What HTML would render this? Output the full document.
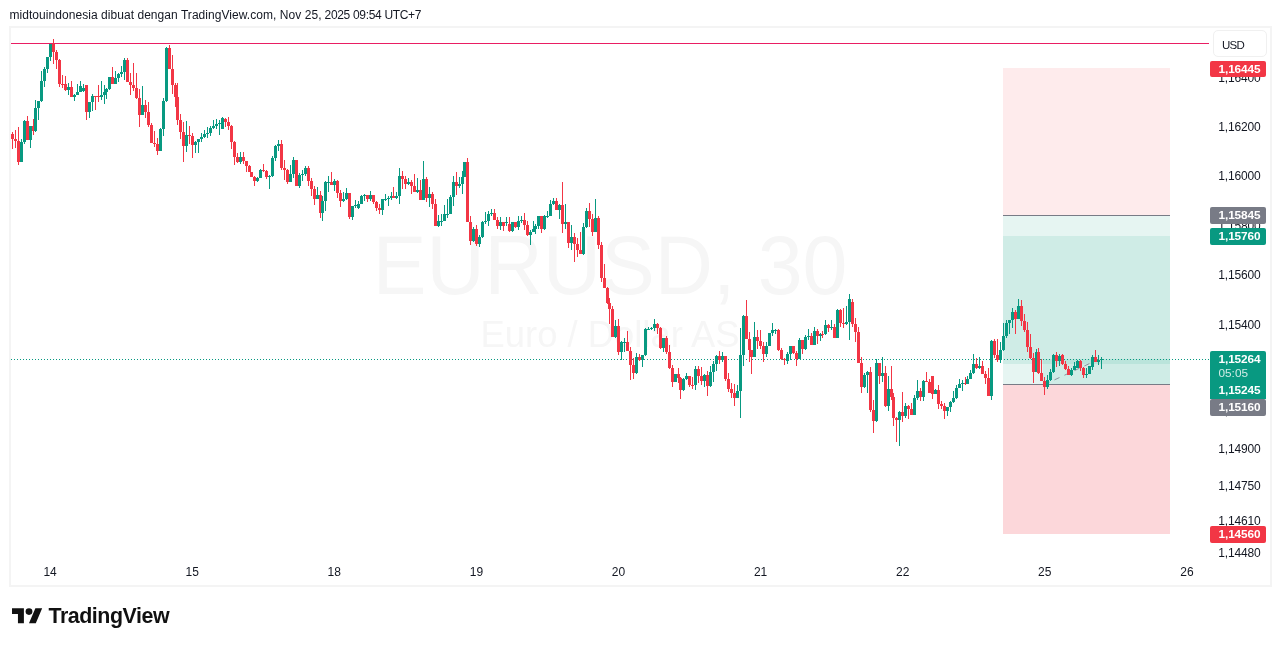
<!DOCTYPE html>
<html lang="id"><head><meta charset="utf-8"><title>EURUSD 30 - TradingView</title>
<style>
html,body{margin:0;padding:0;background:#fff;}
body{width:1281px;height:646px;overflow:hidden;position:relative;font-family:"Liberation Sans","DejaVu Sans",sans-serif;color:#131722;}
#hdr{position:absolute;left:9.5px;top:8px;font-size:12px;line-height:14px;white-space:nowrap;letter-spacing:-0.04px;color:#131722;}
#frame{position:absolute;left:9px;top:26px;width:1259px;height:557px;border:2px solid #f4f4f4;}
#chart{position:absolute;left:0;top:0;width:1281px;height:646px;}
.pl{position:absolute;left:1210px;width:56px;height:17px;line-height:17px;font-size:12px;text-align:left;color:#131722;white-space:nowrap;}
.pl span{position:absolute;left:8.3px;top:-0.5px;letter-spacing:-0.15px;}
.tag{position:absolute;left:1210px;width:56px;height:17px;line-height:17px;font-size:11.8px;font-weight:bold;color:#fff;border-radius:2px;white-space:nowrap;}
.tag span{position:absolute;left:8.5px;top:-0.5px;letter-spacing:-0.1px}
.tl{position:absolute;top:565px;width:40px;margin-left:-20px;text-align:center;font-size:12px;line-height:14px;color:#131722;}
#usd{position:absolute;left:1213px;top:30px;width:52px;height:25px;border:1px solid #f0f0f0;border-radius:5px;font-size:12px;line-height:26px;}
#usd span{position:absolute;left:8px;top:0.5px;font-size:11.5px;letter-spacing:-0.8px}
#wm1{position:absolute;left:-0.5px;width:1220px;top:217.6px;text-align:center;transform:scaleX(0.9686);transform-origin:50% 50%;font-size:83.2px;line-height:96px;color:#f6f6f6;white-space:nowrap;}
#wm2{position:absolute;left:0;width:1220px;top:315px;text-align:center;font-size:36.4px;line-height:40px;color:#f6f6f6;white-space:nowrap;}
#logo{position:absolute;left:12px;top:605px;}
#logotxt{position:absolute;left:48.5px;top:603.5px;font-size:21.4px;line-height:24px;font-weight:bold;color:#111;letter-spacing:-0.45px;white-space:nowrap;}
</style></head>
<body>
<div id="hdr"><span style="letter-spacing:0.05px">midtouindonesia dibuat dengan TradingView.com, Nov 25,</span><span style="letter-spacing:-0.32px"> 2025 09:54 UTC+7</span></div>
<div id="frame"></div>
<div id="wm1">EURUSD, 30</div>
<div id="wm2">Euro / Dollar AS</div>
<svg id="chart" width="1281" height="646" viewBox="0 0 1281 646" shape-rendering="crispEdges">
<rect x="1003" y="68" width="167" height="147.5" fill="#f23645" fill-opacity="0.1"/>
<rect x="1003" y="215.5" width="167" height="148.2" fill="#089981" fill-opacity="0.1"/>
<rect x="1003" y="236" width="167" height="148.7" fill="#089981" fill-opacity="0.1"/>
<rect x="1043" y="359.4" width="127" height="25.3" fill="#089981" fill-opacity="0.1"/>
<rect x="1003" y="384.7" width="167" height="149.7" fill="#f23645" fill-opacity="0.2"/>
<rect x="1003" y="215" width="167" height="1" fill="#787b86"/>
<rect x="1003" y="384" width="167" height="1" fill="#787b86"/>
<rect x="11" y="43" width="1198" height="1" fill="#e91e63"/>
<line x1="11" y1="359.5" x2="1209" y2="359.5" stroke="#089981" stroke-width="1" stroke-dasharray="1 2"/>
<line x1="1044.5" y1="384.5" x2="1098.5" y2="359.4" stroke="#80838f" stroke-width="1" stroke-dasharray="5.5 5.5" stroke-opacity="0.85" shape-rendering="auto"/>
<rect x="12" y="132" width="1" height="17" fill="#f23645"/>
<rect x="11" y="134" width="3" height="5" fill="#f23645"/>
<rect x="15" y="130" width="1" height="18" fill="#f23645"/>
<rect x="14" y="139" width="3" height="2" fill="#f23645"/>
<rect x="18" y="127" width="1" height="38" fill="#f23645"/>
<rect x="17" y="141" width="3" height="21" fill="#f23645"/>
<rect x="21" y="139" width="1" height="23" fill="#089981"/>
<rect x="20" y="142" width="3" height="20" fill="#089981"/>
<rect x="24" y="120" width="1" height="24" fill="#089981"/>
<rect x="23" y="121" width="3" height="21" fill="#089981"/>
<rect x="27" y="116" width="1" height="24" fill="#f23645"/>
<rect x="26" y="121" width="3" height="19" fill="#f23645"/>
<rect x="30" y="126" width="1" height="22" fill="#089981"/>
<rect x="29" y="126" width="3" height="14" fill="#089981"/>
<rect x="33" y="119" width="1" height="16" fill="#f23645"/>
<rect x="32" y="126" width="3" height="5" fill="#f23645"/>
<rect x="35" y="100" width="1" height="32" fill="#089981"/>
<rect x="34" y="108" width="3" height="23" fill="#089981"/>
<rect x="38" y="101" width="1" height="19" fill="#089981"/>
<rect x="37" y="101" width="3" height="7" fill="#089981"/>
<rect x="41" y="71" width="1" height="31" fill="#089981"/>
<rect x="40" y="81" width="3" height="20" fill="#089981"/>
<rect x="44" y="67" width="1" height="20" fill="#089981"/>
<rect x="43" y="69" width="3" height="12" fill="#089981"/>
<rect x="47" y="57" width="1" height="16" fill="#089981"/>
<rect x="46" y="57" width="3" height="12" fill="#089981"/>
<rect x="50" y="44" width="1" height="17" fill="#089981"/>
<rect x="49" y="44" width="3" height="13" fill="#089981"/>
<rect x="53" y="39" width="1" height="25" fill="#f23645"/>
<rect x="52" y="44" width="3" height="8" fill="#f23645"/>
<rect x="56" y="50" width="1" height="19" fill="#f23645"/>
<rect x="55" y="52" width="3" height="8" fill="#f23645"/>
<rect x="59" y="59" width="1" height="28" fill="#f23645"/>
<rect x="58" y="60" width="3" height="24" fill="#f23645"/>
<rect x="62" y="75" width="1" height="13" fill="#f23645"/>
<rect x="61" y="84" width="3" height="1" fill="#f23645"/>
<rect x="65" y="76" width="1" height="15" fill="#f23645"/>
<rect x="64" y="84" width="3" height="6" fill="#f23645"/>
<rect x="68" y="83" width="1" height="12" fill="#089981"/>
<rect x="67" y="87" width="3" height="3" fill="#089981"/>
<rect x="71" y="81" width="1" height="16" fill="#f23645"/>
<rect x="70" y="87" width="3" height="10" fill="#f23645"/>
<rect x="74" y="94" width="1" height="7" fill="#089981"/>
<rect x="73" y="95" width="3" height="2" fill="#089981"/>
<rect x="77" y="84" width="1" height="11" fill="#089981"/>
<rect x="76" y="92" width="3" height="3" fill="#089981"/>
<rect x="80" y="81" width="1" height="11" fill="#089981"/>
<rect x="79" y="86" width="3" height="6" fill="#089981"/>
<rect x="83" y="84" width="1" height="8" fill="#089981"/>
<rect x="82" y="88" width="3" height="3" fill="#089981"/>
<rect x="86" y="85" width="1" height="35" fill="#f23645"/>
<rect x="85" y="85" width="3" height="27" fill="#f23645"/>
<rect x="89" y="102" width="1" height="16" fill="#089981"/>
<rect x="88" y="102" width="3" height="10" fill="#089981"/>
<rect x="92" y="94" width="1" height="17" fill="#089981"/>
<rect x="91" y="96" width="3" height="6" fill="#089981"/>
<rect x="95" y="96" width="1" height="14" fill="#f23645"/>
<rect x="94" y="96" width="3" height="1" fill="#f23645"/>
<rect x="98" y="85" width="1" height="17" fill="#f23645"/>
<rect x="97" y="96" width="3" height="1" fill="#f23645"/>
<rect x="101" y="81" width="1" height="19" fill="#089981"/>
<rect x="100" y="95" width="3" height="2" fill="#089981"/>
<rect x="104" y="85" width="1" height="19" fill="#089981"/>
<rect x="103" y="92" width="3" height="3" fill="#089981"/>
<rect x="106" y="88" width="1" height="11" fill="#089981"/>
<rect x="105" y="89" width="3" height="3" fill="#089981"/>
<rect x="109" y="77" width="1" height="13" fill="#089981"/>
<rect x="108" y="77" width="3" height="12" fill="#089981"/>
<rect x="112" y="67" width="1" height="17" fill="#f23645"/>
<rect x="111" y="77" width="3" height="7" fill="#f23645"/>
<rect x="115" y="71" width="1" height="13" fill="#089981"/>
<rect x="114" y="78" width="3" height="6" fill="#089981"/>
<rect x="118" y="73" width="1" height="9" fill="#089981"/>
<rect x="117" y="74" width="3" height="4" fill="#089981"/>
<rect x="121" y="66" width="1" height="11" fill="#089981"/>
<rect x="120" y="72" width="3" height="2" fill="#089981"/>
<rect x="124" y="58" width="1" height="22" fill="#089981"/>
<rect x="123" y="60" width="3" height="12" fill="#089981"/>
<rect x="127" y="58" width="1" height="24" fill="#f23645"/>
<rect x="126" y="60" width="3" height="22" fill="#f23645"/>
<rect x="130" y="73" width="1" height="22" fill="#f23645"/>
<rect x="129" y="82" width="3" height="3" fill="#f23645"/>
<rect x="133" y="63" width="1" height="28" fill="#f23645"/>
<rect x="132" y="85" width="3" height="3" fill="#f23645"/>
<rect x="136" y="73" width="1" height="26" fill="#f23645"/>
<rect x="135" y="88" width="3" height="10" fill="#f23645"/>
<rect x="139" y="89" width="1" height="38" fill="#f23645"/>
<rect x="138" y="98" width="3" height="17" fill="#f23645"/>
<rect x="142" y="86" width="1" height="29" fill="#089981"/>
<rect x="141" y="105" width="3" height="10" fill="#089981"/>
<rect x="145" y="100" width="1" height="18" fill="#f23645"/>
<rect x="144" y="105" width="3" height="7" fill="#f23645"/>
<rect x="148" y="102" width="1" height="25" fill="#f23645"/>
<rect x="147" y="112" width="3" height="13" fill="#f23645"/>
<rect x="151" y="123" width="1" height="20" fill="#f23645"/>
<rect x="150" y="125" width="3" height="18" fill="#f23645"/>
<rect x="154" y="131" width="1" height="16" fill="#f23645"/>
<rect x="153" y="143" width="3" height="1" fill="#f23645"/>
<rect x="157" y="138" width="1" height="17" fill="#f23645"/>
<rect x="156" y="144" width="3" height="7" fill="#f23645"/>
<rect x="160" y="128" width="1" height="23" fill="#089981"/>
<rect x="159" y="129" width="3" height="22" fill="#089981"/>
<rect x="163" y="98" width="1" height="38" fill="#089981"/>
<rect x="162" y="101" width="3" height="28" fill="#089981"/>
<rect x="166" y="47" width="1" height="55" fill="#089981"/>
<rect x="165" y="48" width="3" height="53" fill="#089981"/>
<rect x="169" y="45" width="1" height="24" fill="#f23645"/>
<rect x="168" y="48" width="3" height="21" fill="#f23645"/>
<rect x="172" y="55" width="1" height="39" fill="#f23645"/>
<rect x="171" y="69" width="3" height="16" fill="#f23645"/>
<rect x="175" y="83" width="1" height="24" fill="#f23645"/>
<rect x="174" y="85" width="3" height="12" fill="#f23645"/>
<rect x="177" y="83" width="1" height="42" fill="#f23645"/>
<rect x="176" y="97" width="3" height="23" fill="#f23645"/>
<rect x="180" y="114" width="1" height="25" fill="#f23645"/>
<rect x="179" y="120" width="3" height="12" fill="#f23645"/>
<rect x="183" y="122" width="1" height="40" fill="#f23645"/>
<rect x="182" y="132" width="3" height="14" fill="#f23645"/>
<rect x="186" y="121" width="1" height="31" fill="#089981"/>
<rect x="185" y="135" width="3" height="11" fill="#089981"/>
<rect x="189" y="126" width="1" height="18" fill="#f23645"/>
<rect x="188" y="135" width="3" height="1" fill="#f23645"/>
<rect x="192" y="133" width="1" height="25" fill="#f23645"/>
<rect x="191" y="136" width="3" height="9" fill="#f23645"/>
<rect x="195" y="141" width="1" height="12" fill="#089981"/>
<rect x="194" y="142" width="3" height="3" fill="#089981"/>
<rect x="198" y="139" width="1" height="14" fill="#089981"/>
<rect x="197" y="139" width="3" height="3" fill="#089981"/>
<rect x="201" y="133" width="1" height="9" fill="#089981"/>
<rect x="200" y="137" width="3" height="2" fill="#089981"/>
<rect x="204" y="130" width="1" height="8" fill="#089981"/>
<rect x="203" y="134" width="3" height="3" fill="#089981"/>
<rect x="207" y="127" width="1" height="11" fill="#089981"/>
<rect x="206" y="133" width="3" height="1" fill="#089981"/>
<rect x="210" y="126" width="1" height="10" fill="#089981"/>
<rect x="209" y="128" width="3" height="5" fill="#089981"/>
<rect x="213" y="120" width="1" height="9" fill="#089981"/>
<rect x="212" y="126" width="3" height="2" fill="#089981"/>
<rect x="216" y="119" width="1" height="10" fill="#089981"/>
<rect x="215" y="124" width="3" height="2" fill="#089981"/>
<rect x="219" y="120" width="1" height="15" fill="#089981"/>
<rect x="218" y="123" width="3" height="1" fill="#089981"/>
<rect x="222" y="117" width="1" height="12" fill="#089981"/>
<rect x="221" y="118" width="3" height="11" fill="#089981"/>
<rect x="225" y="118" width="1" height="9" fill="#f23645"/>
<rect x="224" y="119" width="3" height="3" fill="#f23645"/>
<rect x="228" y="117" width="1" height="13" fill="#f23645"/>
<rect x="227" y="122" width="3" height="4" fill="#f23645"/>
<rect x="231" y="125" width="1" height="24" fill="#f23645"/>
<rect x="230" y="126" width="3" height="16" fill="#f23645"/>
<rect x="234" y="141" width="1" height="24" fill="#f23645"/>
<rect x="233" y="142" width="3" height="15" fill="#f23645"/>
<rect x="237" y="153" width="1" height="10" fill="#f23645"/>
<rect x="236" y="157" width="3" height="5" fill="#f23645"/>
<rect x="240" y="152" width="1" height="12" fill="#089981"/>
<rect x="239" y="157" width="3" height="5" fill="#089981"/>
<rect x="243" y="152" width="1" height="12" fill="#f23645"/>
<rect x="242" y="157" width="3" height="4" fill="#f23645"/>
<rect x="246" y="161" width="1" height="11" fill="#f23645"/>
<rect x="245" y="161" width="3" height="5" fill="#f23645"/>
<rect x="249" y="165" width="1" height="7" fill="#f23645"/>
<rect x="248" y="166" width="3" height="6" fill="#f23645"/>
<rect x="251" y="172" width="1" height="5" fill="#f23645"/>
<rect x="250" y="172" width="3" height="5" fill="#f23645"/>
<rect x="254" y="176" width="1" height="10" fill="#f23645"/>
<rect x="253" y="177" width="3" height="4" fill="#f23645"/>
<rect x="257" y="177" width="1" height="5" fill="#089981"/>
<rect x="256" y="178" width="3" height="3" fill="#089981"/>
<rect x="260" y="169" width="1" height="9" fill="#089981"/>
<rect x="259" y="170" width="3" height="8" fill="#089981"/>
<rect x="263" y="164" width="1" height="8" fill="#f23645"/>
<rect x="262" y="170" width="3" height="1" fill="#f23645"/>
<rect x="266" y="170" width="1" height="9" fill="#f23645"/>
<rect x="265" y="171" width="3" height="6" fill="#f23645"/>
<rect x="269" y="175" width="1" height="14" fill="#089981"/>
<rect x="268" y="176" width="3" height="1" fill="#089981"/>
<rect x="272" y="156" width="1" height="21" fill="#089981"/>
<rect x="271" y="158" width="3" height="18" fill="#089981"/>
<rect x="275" y="145" width="1" height="16" fill="#089981"/>
<rect x="274" y="146" width="3" height="12" fill="#089981"/>
<rect x="278" y="140" width="1" height="11" fill="#089981"/>
<rect x="277" y="144" width="3" height="2" fill="#089981"/>
<rect x="281" y="140" width="1" height="30" fill="#f23645"/>
<rect x="280" y="144" width="3" height="24" fill="#f23645"/>
<rect x="284" y="160" width="1" height="20" fill="#f23645"/>
<rect x="283" y="168" width="3" height="2" fill="#f23645"/>
<rect x="287" y="169" width="1" height="15" fill="#f23645"/>
<rect x="286" y="170" width="3" height="12" fill="#f23645"/>
<rect x="290" y="165" width="1" height="17" fill="#089981"/>
<rect x="289" y="174" width="3" height="8" fill="#089981"/>
<rect x="293" y="157" width="1" height="21" fill="#089981"/>
<rect x="292" y="160" width="3" height="14" fill="#089981"/>
<rect x="296" y="160" width="1" height="26" fill="#f23645"/>
<rect x="295" y="160" width="3" height="26" fill="#f23645"/>
<rect x="299" y="173" width="1" height="15" fill="#089981"/>
<rect x="298" y="175" width="3" height="11" fill="#089981"/>
<rect x="302" y="170" width="1" height="11" fill="#089981"/>
<rect x="301" y="174" width="3" height="1" fill="#089981"/>
<rect x="305" y="166" width="1" height="10" fill="#089981"/>
<rect x="304" y="168" width="3" height="6" fill="#089981"/>
<rect x="308" y="166" width="1" height="20" fill="#f23645"/>
<rect x="307" y="168" width="3" height="13" fill="#f23645"/>
<rect x="311" y="178" width="1" height="18" fill="#f23645"/>
<rect x="310" y="181" width="3" height="8" fill="#f23645"/>
<rect x="314" y="186" width="1" height="19" fill="#f23645"/>
<rect x="313" y="189" width="3" height="10" fill="#f23645"/>
<rect x="317" y="187" width="1" height="12" fill="#089981"/>
<rect x="316" y="195" width="3" height="4" fill="#089981"/>
<rect x="320" y="191" width="1" height="27" fill="#f23645"/>
<rect x="319" y="195" width="3" height="18" fill="#f23645"/>
<rect x="322" y="196" width="1" height="25" fill="#089981"/>
<rect x="321" y="201" width="3" height="12" fill="#089981"/>
<rect x="325" y="181" width="1" height="30" fill="#089981"/>
<rect x="324" y="182" width="3" height="19" fill="#089981"/>
<rect x="328" y="176" width="1" height="16" fill="#089981"/>
<rect x="327" y="182" width="3" height="1" fill="#089981"/>
<rect x="331" y="172" width="1" height="13" fill="#f23645"/>
<rect x="330" y="182" width="3" height="3" fill="#f23645"/>
<rect x="334" y="179" width="1" height="12" fill="#089981"/>
<rect x="333" y="181" width="3" height="4" fill="#089981"/>
<rect x="337" y="180" width="1" height="18" fill="#f23645"/>
<rect x="336" y="181" width="3" height="12" fill="#f23645"/>
<rect x="340" y="190" width="1" height="17" fill="#f23645"/>
<rect x="339" y="193" width="3" height="8" fill="#f23645"/>
<rect x="343" y="192" width="1" height="10" fill="#089981"/>
<rect x="342" y="199" width="3" height="2" fill="#089981"/>
<rect x="346" y="188" width="1" height="12" fill="#089981"/>
<rect x="345" y="193" width="3" height="6" fill="#089981"/>
<rect x="349" y="193" width="1" height="26" fill="#f23645"/>
<rect x="348" y="193" width="3" height="24" fill="#f23645"/>
<rect x="352" y="206" width="1" height="14" fill="#089981"/>
<rect x="351" y="206" width="3" height="11" fill="#089981"/>
<rect x="355" y="200" width="1" height="8" fill="#089981"/>
<rect x="354" y="205" width="3" height="1" fill="#089981"/>
<rect x="358" y="201" width="1" height="8" fill="#089981"/>
<rect x="357" y="204" width="3" height="4" fill="#089981"/>
<rect x="361" y="195" width="1" height="9" fill="#089981"/>
<rect x="360" y="196" width="3" height="8" fill="#089981"/>
<rect x="364" y="194" width="1" height="7" fill="#089981"/>
<rect x="363" y="195" width="3" height="1" fill="#089981"/>
<rect x="367" y="195" width="1" height="7" fill="#f23645"/>
<rect x="366" y="195" width="3" height="4" fill="#f23645"/>
<rect x="370" y="191" width="1" height="10" fill="#089981"/>
<rect x="369" y="195" width="3" height="4" fill="#089981"/>
<rect x="373" y="195" width="1" height="9" fill="#f23645"/>
<rect x="372" y="195" width="3" height="7" fill="#f23645"/>
<rect x="376" y="201" width="1" height="10" fill="#f23645"/>
<rect x="375" y="202" width="3" height="6" fill="#f23645"/>
<rect x="379" y="204" width="1" height="10" fill="#f23645"/>
<rect x="378" y="208" width="3" height="2" fill="#f23645"/>
<rect x="382" y="199" width="1" height="16" fill="#089981"/>
<rect x="381" y="199" width="3" height="11" fill="#089981"/>
<rect x="385" y="194" width="1" height="7" fill="#089981"/>
<rect x="384" y="199" width="3" height="1" fill="#089981"/>
<rect x="388" y="196" width="1" height="10" fill="#089981"/>
<rect x="387" y="198" width="3" height="1" fill="#089981"/>
<rect x="391" y="192" width="1" height="8" fill="#089981"/>
<rect x="390" y="196" width="3" height="2" fill="#089981"/>
<rect x="393" y="187" width="1" height="11" fill="#f23645"/>
<rect x="392" y="196" width="3" height="2" fill="#f23645"/>
<rect x="396" y="192" width="1" height="7" fill="#089981"/>
<rect x="395" y="196" width="3" height="2" fill="#089981"/>
<rect x="399" y="168" width="1" height="36" fill="#089981"/>
<rect x="398" y="176" width="3" height="20" fill="#089981"/>
<rect x="402" y="171" width="1" height="18" fill="#f23645"/>
<rect x="401" y="176" width="3" height="3" fill="#f23645"/>
<rect x="405" y="176" width="1" height="13" fill="#f23645"/>
<rect x="404" y="179" width="3" height="5" fill="#f23645"/>
<rect x="408" y="178" width="1" height="7" fill="#089981"/>
<rect x="407" y="182" width="3" height="2" fill="#089981"/>
<rect x="411" y="180" width="1" height="14" fill="#f23645"/>
<rect x="410" y="182" width="3" height="4" fill="#f23645"/>
<rect x="414" y="174" width="1" height="18" fill="#f23645"/>
<rect x="413" y="186" width="3" height="6" fill="#f23645"/>
<rect x="417" y="178" width="1" height="15" fill="#089981"/>
<rect x="416" y="190" width="3" height="2" fill="#089981"/>
<rect x="420" y="180" width="1" height="20" fill="#f23645"/>
<rect x="419" y="190" width="3" height="10" fill="#f23645"/>
<rect x="423" y="161" width="1" height="39" fill="#089981"/>
<rect x="422" y="179" width="3" height="21" fill="#089981"/>
<rect x="426" y="177" width="1" height="25" fill="#f23645"/>
<rect x="425" y="179" width="3" height="19" fill="#f23645"/>
<rect x="429" y="187" width="1" height="20" fill="#089981"/>
<rect x="428" y="194" width="3" height="4" fill="#089981"/>
<rect x="432" y="192" width="1" height="17" fill="#f23645"/>
<rect x="431" y="194" width="3" height="10" fill="#f23645"/>
<rect x="435" y="199" width="1" height="27" fill="#f23645"/>
<rect x="434" y="204" width="3" height="22" fill="#f23645"/>
<rect x="438" y="215" width="1" height="12" fill="#089981"/>
<rect x="437" y="221" width="3" height="5" fill="#089981"/>
<rect x="441" y="214" width="1" height="12" fill="#089981"/>
<rect x="440" y="221" width="3" height="1" fill="#089981"/>
<rect x="444" y="205" width="1" height="16" fill="#089981"/>
<rect x="443" y="214" width="3" height="7" fill="#089981"/>
<rect x="447" y="199" width="1" height="19" fill="#089981"/>
<rect x="446" y="214" width="3" height="1" fill="#089981"/>
<rect x="450" y="195" width="1" height="19" fill="#089981"/>
<rect x="449" y="197" width="3" height="17" fill="#089981"/>
<rect x="453" y="176" width="1" height="30" fill="#089981"/>
<rect x="452" y="182" width="3" height="15" fill="#089981"/>
<rect x="456" y="172" width="1" height="23" fill="#f23645"/>
<rect x="455" y="182" width="3" height="4" fill="#f23645"/>
<rect x="459" y="177" width="1" height="11" fill="#089981"/>
<rect x="458" y="184" width="3" height="2" fill="#089981"/>
<rect x="462" y="171" width="1" height="23" fill="#089981"/>
<rect x="461" y="177" width="3" height="7" fill="#089981"/>
<rect x="464" y="162" width="1" height="15" fill="#089981"/>
<rect x="463" y="162" width="3" height="15" fill="#089981"/>
<rect x="467" y="158" width="1" height="64" fill="#f23645"/>
<rect x="466" y="162" width="3" height="60" fill="#f23645"/>
<rect x="470" y="216" width="1" height="29" fill="#f23645"/>
<rect x="469" y="222" width="3" height="19" fill="#f23645"/>
<rect x="473" y="227" width="1" height="15" fill="#089981"/>
<rect x="472" y="229" width="3" height="12" fill="#089981"/>
<rect x="476" y="225" width="1" height="21" fill="#f23645"/>
<rect x="475" y="229" width="3" height="15" fill="#f23645"/>
<rect x="479" y="235" width="1" height="12" fill="#089981"/>
<rect x="478" y="237" width="3" height="7" fill="#089981"/>
<rect x="482" y="221" width="1" height="17" fill="#089981"/>
<rect x="481" y="222" width="3" height="15" fill="#089981"/>
<rect x="485" y="212" width="1" height="12" fill="#089981"/>
<rect x="484" y="221" width="3" height="1" fill="#089981"/>
<rect x="488" y="211" width="1" height="15" fill="#089981"/>
<rect x="487" y="214" width="3" height="7" fill="#089981"/>
<rect x="491" y="209" width="1" height="7" fill="#089981"/>
<rect x="490" y="213" width="3" height="1" fill="#089981"/>
<rect x="494" y="209" width="1" height="11" fill="#f23645"/>
<rect x="493" y="213" width="3" height="7" fill="#f23645"/>
<rect x="497" y="217" width="1" height="12" fill="#f23645"/>
<rect x="496" y="220" width="3" height="6" fill="#f23645"/>
<rect x="500" y="217" width="1" height="13" fill="#089981"/>
<rect x="499" y="222" width="3" height="4" fill="#089981"/>
<rect x="503" y="222" width="1" height="9" fill="#f23645"/>
<rect x="502" y="222" width="3" height="4" fill="#f23645"/>
<rect x="506" y="217" width="1" height="9" fill="#089981"/>
<rect x="505" y="222" width="3" height="1" fill="#089981"/>
<rect x="509" y="217" width="1" height="15" fill="#f23645"/>
<rect x="508" y="224" width="3" height="7" fill="#f23645"/>
<rect x="512" y="222" width="1" height="10" fill="#089981"/>
<rect x="511" y="222" width="3" height="9" fill="#089981"/>
<rect x="515" y="222" width="1" height="6" fill="#f23645"/>
<rect x="514" y="222" width="3" height="5" fill="#f23645"/>
<rect x="518" y="216" width="1" height="14" fill="#089981"/>
<rect x="517" y="221" width="3" height="6" fill="#089981"/>
<rect x="521" y="216" width="1" height="7" fill="#089981"/>
<rect x="520" y="220" width="3" height="1" fill="#089981"/>
<rect x="524" y="213" width="1" height="17" fill="#f23645"/>
<rect x="523" y="220" width="3" height="5" fill="#f23645"/>
<rect x="527" y="221" width="1" height="15" fill="#f23645"/>
<rect x="526" y="225" width="3" height="10" fill="#f23645"/>
<rect x="530" y="230" width="1" height="15" fill="#089981"/>
<rect x="529" y="232" width="3" height="3" fill="#089981"/>
<rect x="533" y="221" width="1" height="11" fill="#089981"/>
<rect x="532" y="229" width="3" height="3" fill="#089981"/>
<rect x="535" y="224" width="1" height="10" fill="#089981"/>
<rect x="534" y="226" width="3" height="3" fill="#089981"/>
<rect x="538" y="216" width="1" height="13" fill="#089981"/>
<rect x="537" y="216" width="3" height="10" fill="#089981"/>
<rect x="541" y="216" width="1" height="17" fill="#f23645"/>
<rect x="540" y="216" width="3" height="13" fill="#f23645"/>
<rect x="544" y="215" width="1" height="15" fill="#089981"/>
<rect x="543" y="216" width="3" height="13" fill="#089981"/>
<rect x="547" y="211" width="1" height="7" fill="#089981"/>
<rect x="546" y="216" width="3" height="1" fill="#089981"/>
<rect x="550" y="200" width="1" height="16" fill="#089981"/>
<rect x="549" y="204" width="3" height="12" fill="#089981"/>
<rect x="553" y="198" width="1" height="7" fill="#089981"/>
<rect x="552" y="201" width="3" height="3" fill="#089981"/>
<rect x="556" y="198" width="1" height="12" fill="#f23645"/>
<rect x="555" y="201" width="3" height="9" fill="#f23645"/>
<rect x="559" y="204" width="1" height="15" fill="#089981"/>
<rect x="558" y="205" width="3" height="5" fill="#089981"/>
<rect x="562" y="182" width="1" height="51" fill="#f23645"/>
<rect x="561" y="205" width="3" height="19" fill="#f23645"/>
<rect x="565" y="204" width="1" height="25" fill="#089981"/>
<rect x="564" y="222" width="3" height="2" fill="#089981"/>
<rect x="568" y="222" width="1" height="26" fill="#f23645"/>
<rect x="567" y="222" width="3" height="21" fill="#f23645"/>
<rect x="571" y="225" width="1" height="25" fill="#089981"/>
<rect x="570" y="237" width="3" height="6" fill="#089981"/>
<rect x="574" y="233" width="1" height="29" fill="#f23645"/>
<rect x="573" y="237" width="3" height="7" fill="#f23645"/>
<rect x="577" y="238" width="1" height="19" fill="#f23645"/>
<rect x="576" y="244" width="3" height="6" fill="#f23645"/>
<rect x="580" y="232" width="1" height="22" fill="#f23645"/>
<rect x="579" y="250" width="3" height="4" fill="#f23645"/>
<rect x="583" y="223" width="1" height="32" fill="#089981"/>
<rect x="582" y="227" width="3" height="27" fill="#089981"/>
<rect x="586" y="208" width="1" height="20" fill="#089981"/>
<rect x="585" y="211" width="3" height="16" fill="#089981"/>
<rect x="589" y="203" width="1" height="24" fill="#f23645"/>
<rect x="588" y="211" width="3" height="8" fill="#f23645"/>
<rect x="592" y="214" width="1" height="22" fill="#f23645"/>
<rect x="591" y="219" width="3" height="13" fill="#f23645"/>
<rect x="595" y="199" width="1" height="33" fill="#089981"/>
<rect x="594" y="218" width="3" height="14" fill="#089981"/>
<rect x="598" y="216" width="1" height="33" fill="#f23645"/>
<rect x="597" y="218" width="3" height="27" fill="#f23645"/>
<rect x="601" y="242" width="1" height="40" fill="#f23645"/>
<rect x="600" y="245" width="3" height="33" fill="#f23645"/>
<rect x="604" y="264" width="1" height="24" fill="#f23645"/>
<rect x="603" y="278" width="3" height="10" fill="#f23645"/>
<rect x="607" y="287" width="1" height="17" fill="#f23645"/>
<rect x="606" y="288" width="3" height="15" fill="#f23645"/>
<rect x="609" y="298" width="1" height="26" fill="#f23645"/>
<rect x="608" y="303" width="3" height="6" fill="#f23645"/>
<rect x="612" y="306" width="1" height="31" fill="#f23645"/>
<rect x="611" y="309" width="3" height="28" fill="#f23645"/>
<rect x="615" y="320" width="1" height="18" fill="#089981"/>
<rect x="614" y="326" width="3" height="11" fill="#089981"/>
<rect x="618" y="319" width="1" height="36" fill="#f23645"/>
<rect x="617" y="326" width="3" height="26" fill="#f23645"/>
<rect x="621" y="341" width="1" height="19" fill="#089981"/>
<rect x="620" y="342" width="3" height="10" fill="#089981"/>
<rect x="624" y="338" width="1" height="14" fill="#089981"/>
<rect x="623" y="342" width="3" height="1" fill="#089981"/>
<rect x="627" y="331" width="1" height="20" fill="#f23645"/>
<rect x="626" y="342" width="3" height="9" fill="#f23645"/>
<rect x="630" y="347" width="1" height="33" fill="#f23645"/>
<rect x="629" y="351" width="3" height="14" fill="#f23645"/>
<rect x="633" y="358" width="1" height="21" fill="#f23645"/>
<rect x="632" y="365" width="3" height="8" fill="#f23645"/>
<rect x="636" y="353" width="1" height="21" fill="#089981"/>
<rect x="635" y="357" width="3" height="16" fill="#089981"/>
<rect x="639" y="354" width="1" height="7" fill="#f23645"/>
<rect x="638" y="357" width="3" height="3" fill="#f23645"/>
<rect x="642" y="355" width="1" height="12" fill="#089981"/>
<rect x="641" y="355" width="3" height="5" fill="#089981"/>
<rect x="645" y="328" width="1" height="28" fill="#089981"/>
<rect x="644" y="329" width="3" height="26" fill="#089981"/>
<rect x="648" y="327" width="1" height="3" fill="#089981"/>
<rect x="647" y="329" width="3" height="1" fill="#089981"/>
<rect x="651" y="327" width="1" height="3" fill="#089981"/>
<rect x="650" y="328" width="3" height="1" fill="#089981"/>
<rect x="654" y="319" width="1" height="12" fill="#089981"/>
<rect x="653" y="324" width="3" height="4" fill="#089981"/>
<rect x="657" y="323" width="1" height="11" fill="#f23645"/>
<rect x="656" y="324" width="3" height="4" fill="#f23645"/>
<rect x="660" y="327" width="1" height="22" fill="#f23645"/>
<rect x="659" y="328" width="3" height="20" fill="#f23645"/>
<rect x="663" y="338" width="1" height="14" fill="#089981"/>
<rect x="662" y="338" width="3" height="10" fill="#089981"/>
<rect x="666" y="336" width="1" height="18" fill="#f23645"/>
<rect x="665" y="338" width="3" height="14" fill="#f23645"/>
<rect x="669" y="345" width="1" height="24" fill="#f23645"/>
<rect x="668" y="352" width="3" height="16" fill="#f23645"/>
<rect x="672" y="365" width="1" height="22" fill="#f23645"/>
<rect x="671" y="368" width="3" height="14" fill="#f23645"/>
<rect x="675" y="374" width="1" height="8" fill="#089981"/>
<rect x="674" y="374" width="3" height="8" fill="#089981"/>
<rect x="678" y="368" width="1" height="15" fill="#f23645"/>
<rect x="677" y="374" width="3" height="4" fill="#f23645"/>
<rect x="680" y="377" width="1" height="22" fill="#f23645"/>
<rect x="679" y="378" width="3" height="12" fill="#f23645"/>
<rect x="683" y="378" width="1" height="13" fill="#089981"/>
<rect x="682" y="379" width="3" height="11" fill="#089981"/>
<rect x="686" y="373" width="1" height="7" fill="#089981"/>
<rect x="685" y="376" width="3" height="3" fill="#089981"/>
<rect x="689" y="376" width="1" height="11" fill="#f23645"/>
<rect x="688" y="376" width="3" height="9" fill="#f23645"/>
<rect x="692" y="377" width="1" height="12" fill="#f23645"/>
<rect x="691" y="385" width="3" height="1" fill="#f23645"/>
<rect x="695" y="366" width="1" height="24" fill="#089981"/>
<rect x="694" y="369" width="3" height="16" fill="#089981"/>
<rect x="698" y="366" width="1" height="17" fill="#f23645"/>
<rect x="697" y="369" width="3" height="7" fill="#f23645"/>
<rect x="701" y="367" width="1" height="18" fill="#f23645"/>
<rect x="700" y="376" width="3" height="5" fill="#f23645"/>
<rect x="704" y="374" width="1" height="13" fill="#089981"/>
<rect x="703" y="375" width="3" height="6" fill="#089981"/>
<rect x="707" y="371" width="1" height="25" fill="#f23645"/>
<rect x="706" y="375" width="3" height="11" fill="#f23645"/>
<rect x="710" y="366" width="1" height="21" fill="#089981"/>
<rect x="709" y="372" width="3" height="14" fill="#089981"/>
<rect x="713" y="361" width="1" height="21" fill="#089981"/>
<rect x="712" y="364" width="3" height="8" fill="#089981"/>
<rect x="716" y="355" width="1" height="16" fill="#089981"/>
<rect x="715" y="356" width="3" height="8" fill="#089981"/>
<rect x="719" y="351" width="1" height="13" fill="#f23645"/>
<rect x="718" y="356" width="3" height="4" fill="#f23645"/>
<rect x="722" y="352" width="1" height="10" fill="#089981"/>
<rect x="721" y="356" width="3" height="4" fill="#089981"/>
<rect x="725" y="356" width="1" height="25" fill="#f23645"/>
<rect x="724" y="356" width="3" height="23" fill="#f23645"/>
<rect x="728" y="373" width="1" height="19" fill="#f23645"/>
<rect x="727" y="379" width="3" height="10" fill="#f23645"/>
<rect x="731" y="383" width="1" height="15" fill="#f23645"/>
<rect x="730" y="389" width="3" height="4" fill="#f23645"/>
<rect x="734" y="384" width="1" height="22" fill="#f23645"/>
<rect x="733" y="393" width="3" height="5" fill="#f23645"/>
<rect x="737" y="385" width="1" height="13" fill="#089981"/>
<rect x="736" y="391" width="3" height="7" fill="#089981"/>
<rect x="740" y="328" width="1" height="90" fill="#089981"/>
<rect x="739" y="355" width="3" height="36" fill="#089981"/>
<rect x="743" y="315" width="1" height="51" fill="#089981"/>
<rect x="742" y="316" width="3" height="39" fill="#089981"/>
<rect x="746" y="300" width="1" height="39" fill="#f23645"/>
<rect x="745" y="316" width="3" height="23" fill="#f23645"/>
<rect x="749" y="332" width="1" height="30" fill="#f23645"/>
<rect x="748" y="339" width="3" height="11" fill="#f23645"/>
<rect x="751" y="350" width="1" height="24" fill="#f23645"/>
<rect x="750" y="350" width="3" height="7" fill="#f23645"/>
<rect x="754" y="322" width="1" height="35" fill="#089981"/>
<rect x="753" y="337" width="3" height="20" fill="#089981"/>
<rect x="757" y="330" width="1" height="19" fill="#f23645"/>
<rect x="756" y="337" width="3" height="4" fill="#f23645"/>
<rect x="760" y="330" width="1" height="19" fill="#f23645"/>
<rect x="759" y="341" width="3" height="5" fill="#f23645"/>
<rect x="763" y="342" width="1" height="20" fill="#f23645"/>
<rect x="762" y="346" width="3" height="8" fill="#f23645"/>
<rect x="766" y="342" width="1" height="15" fill="#089981"/>
<rect x="765" y="346" width="3" height="8" fill="#089981"/>
<rect x="769" y="333" width="1" height="13" fill="#089981"/>
<rect x="768" y="333" width="3" height="13" fill="#089981"/>
<rect x="772" y="323" width="1" height="13" fill="#089981"/>
<rect x="771" y="330" width="3" height="3" fill="#089981"/>
<rect x="775" y="329" width="1" height="5" fill="#089981"/>
<rect x="774" y="330" width="3" height="1" fill="#089981"/>
<rect x="778" y="329" width="1" height="22" fill="#f23645"/>
<rect x="777" y="330" width="3" height="20" fill="#f23645"/>
<rect x="781" y="348" width="1" height="12" fill="#f23645"/>
<rect x="780" y="350" width="3" height="9" fill="#f23645"/>
<rect x="784" y="358" width="1" height="7" fill="#f23645"/>
<rect x="783" y="359" width="3" height="1" fill="#f23645"/>
<rect x="787" y="352" width="1" height="12" fill="#089981"/>
<rect x="786" y="354" width="3" height="7" fill="#089981"/>
<rect x="790" y="346" width="1" height="14" fill="#089981"/>
<rect x="789" y="346" width="3" height="8" fill="#089981"/>
<rect x="793" y="346" width="1" height="8" fill="#f23645"/>
<rect x="792" y="346" width="3" height="7" fill="#f23645"/>
<rect x="796" y="351" width="1" height="15" fill="#f23645"/>
<rect x="795" y="353" width="3" height="6" fill="#f23645"/>
<rect x="799" y="338" width="1" height="21" fill="#089981"/>
<rect x="798" y="340" width="3" height="19" fill="#089981"/>
<rect x="802" y="340" width="1" height="14" fill="#f23645"/>
<rect x="801" y="340" width="3" height="9" fill="#f23645"/>
<rect x="805" y="335" width="1" height="15" fill="#089981"/>
<rect x="804" y="337" width="3" height="12" fill="#089981"/>
<rect x="808" y="329" width="1" height="11" fill="#089981"/>
<rect x="807" y="336" width="3" height="1" fill="#089981"/>
<rect x="811" y="333" width="1" height="12" fill="#f23645"/>
<rect x="810" y="336" width="3" height="9" fill="#f23645"/>
<rect x="814" y="327" width="1" height="18" fill="#089981"/>
<rect x="813" y="331" width="3" height="14" fill="#089981"/>
<rect x="817" y="329" width="1" height="15" fill="#f23645"/>
<rect x="816" y="331" width="3" height="5" fill="#f23645"/>
<rect x="820" y="333" width="1" height="8" fill="#089981"/>
<rect x="819" y="334" width="3" height="2" fill="#089981"/>
<rect x="822" y="331" width="1" height="7" fill="#f23645"/>
<rect x="821" y="334" width="3" height="1" fill="#f23645"/>
<rect x="825" y="320" width="1" height="15" fill="#089981"/>
<rect x="824" y="325" width="3" height="9" fill="#089981"/>
<rect x="828" y="324" width="1" height="8" fill="#f23645"/>
<rect x="827" y="325" width="3" height="3" fill="#f23645"/>
<rect x="831" y="320" width="1" height="10" fill="#089981"/>
<rect x="830" y="327" width="3" height="1" fill="#089981"/>
<rect x="834" y="324" width="1" height="14" fill="#f23645"/>
<rect x="833" y="327" width="3" height="11" fill="#f23645"/>
<rect x="837" y="309" width="1" height="29" fill="#089981"/>
<rect x="836" y="310" width="3" height="28" fill="#089981"/>
<rect x="840" y="309" width="1" height="18" fill="#f23645"/>
<rect x="839" y="310" width="3" height="13" fill="#f23645"/>
<rect x="843" y="308" width="1" height="20" fill="#f23645"/>
<rect x="842" y="323" width="3" height="1" fill="#f23645"/>
<rect x="846" y="306" width="1" height="19" fill="#089981"/>
<rect x="845" y="322" width="3" height="2" fill="#089981"/>
<rect x="849" y="294" width="1" height="46" fill="#089981"/>
<rect x="848" y="299" width="3" height="23" fill="#089981"/>
<rect x="852" y="299" width="1" height="28" fill="#f23645"/>
<rect x="851" y="302" width="3" height="22" fill="#f23645"/>
<rect x="855" y="318" width="1" height="24" fill="#f23645"/>
<rect x="854" y="324" width="3" height="8" fill="#f23645"/>
<rect x="858" y="327" width="1" height="36" fill="#f23645"/>
<rect x="857" y="332" width="3" height="31" fill="#f23645"/>
<rect x="861" y="357" width="1" height="36" fill="#f23645"/>
<rect x="860" y="363" width="3" height="24" fill="#f23645"/>
<rect x="864" y="373" width="1" height="15" fill="#089981"/>
<rect x="863" y="375" width="3" height="12" fill="#089981"/>
<rect x="867" y="371" width="1" height="22" fill="#089981"/>
<rect x="866" y="372" width="3" height="3" fill="#089981"/>
<rect x="870" y="367" width="1" height="45" fill="#f23645"/>
<rect x="869" y="372" width="3" height="38" fill="#f23645"/>
<rect x="873" y="400" width="1" height="33" fill="#f23645"/>
<rect x="872" y="410" width="3" height="11" fill="#f23645"/>
<rect x="876" y="359" width="1" height="63" fill="#089981"/>
<rect x="875" y="363" width="3" height="58" fill="#089981"/>
<rect x="879" y="363" width="1" height="21" fill="#f23645"/>
<rect x="878" y="363" width="3" height="13" fill="#f23645"/>
<rect x="882" y="357" width="1" height="25" fill="#089981"/>
<rect x="881" y="373" width="3" height="3" fill="#089981"/>
<rect x="885" y="366" width="1" height="41" fill="#f23645"/>
<rect x="884" y="373" width="3" height="33" fill="#f23645"/>
<rect x="888" y="376" width="1" height="35" fill="#089981"/>
<rect x="887" y="389" width="3" height="17" fill="#089981"/>
<rect x="891" y="366" width="1" height="34" fill="#f23645"/>
<rect x="890" y="389" width="3" height="8" fill="#f23645"/>
<rect x="893" y="393" width="1" height="33" fill="#f23645"/>
<rect x="892" y="397" width="3" height="21" fill="#f23645"/>
<rect x="896" y="417" width="1" height="25" fill="#f23645"/>
<rect x="895" y="418" width="3" height="2" fill="#f23645"/>
<rect x="899" y="411" width="1" height="35" fill="#089981"/>
<rect x="898" y="412" width="3" height="8" fill="#089981"/>
<rect x="902" y="392" width="1" height="30" fill="#f23645"/>
<rect x="901" y="412" width="3" height="4" fill="#f23645"/>
<rect x="905" y="403" width="1" height="15" fill="#089981"/>
<rect x="904" y="406" width="3" height="10" fill="#089981"/>
<rect x="908" y="405" width="1" height="14" fill="#f23645"/>
<rect x="907" y="406" width="3" height="3" fill="#f23645"/>
<rect x="911" y="403" width="1" height="12" fill="#f23645"/>
<rect x="910" y="409" width="3" height="6" fill="#f23645"/>
<rect x="914" y="395" width="1" height="20" fill="#089981"/>
<rect x="913" y="398" width="3" height="17" fill="#089981"/>
<rect x="917" y="380" width="1" height="20" fill="#089981"/>
<rect x="916" y="391" width="3" height="7" fill="#089981"/>
<rect x="920" y="388" width="1" height="13" fill="#f23645"/>
<rect x="919" y="391" width="3" height="6" fill="#f23645"/>
<rect x="923" y="380" width="1" height="21" fill="#089981"/>
<rect x="922" y="381" width="3" height="16" fill="#089981"/>
<rect x="926" y="372" width="1" height="10" fill="#f23645"/>
<rect x="925" y="381" width="3" height="1" fill="#f23645"/>
<rect x="929" y="379" width="1" height="14" fill="#f23645"/>
<rect x="928" y="382" width="3" height="11" fill="#f23645"/>
<rect x="932" y="376" width="1" height="23" fill="#f23645"/>
<rect x="931" y="376" width="3" height="18" fill="#f23645"/>
<rect x="935" y="389" width="1" height="5" fill="#089981"/>
<rect x="934" y="390" width="3" height="4" fill="#089981"/>
<rect x="938" y="385" width="1" height="24" fill="#f23645"/>
<rect x="937" y="390" width="3" height="14" fill="#f23645"/>
<rect x="941" y="401" width="1" height="8" fill="#f23645"/>
<rect x="940" y="404" width="3" height="2" fill="#f23645"/>
<rect x="944" y="403" width="1" height="16" fill="#f23645"/>
<rect x="943" y="406" width="3" height="5" fill="#f23645"/>
<rect x="947" y="407" width="1" height="9" fill="#089981"/>
<rect x="946" y="407" width="3" height="4" fill="#089981"/>
<rect x="950" y="401" width="1" height="11" fill="#089981"/>
<rect x="949" y="402" width="3" height="5" fill="#089981"/>
<rect x="953" y="391" width="1" height="12" fill="#089981"/>
<rect x="952" y="398" width="3" height="4" fill="#089981"/>
<rect x="956" y="385" width="1" height="14" fill="#089981"/>
<rect x="955" y="388" width="3" height="10" fill="#089981"/>
<rect x="959" y="379" width="1" height="9" fill="#089981"/>
<rect x="958" y="384" width="3" height="4" fill="#089981"/>
<rect x="962" y="380" width="1" height="11" fill="#089981"/>
<rect x="961" y="383" width="3" height="1" fill="#089981"/>
<rect x="965" y="377" width="1" height="8" fill="#f23645"/>
<rect x="964" y="383" width="3" height="1" fill="#f23645"/>
<rect x="967" y="376" width="1" height="8" fill="#089981"/>
<rect x="966" y="379" width="3" height="5" fill="#089981"/>
<rect x="970" y="370" width="1" height="9" fill="#089981"/>
<rect x="969" y="373" width="3" height="6" fill="#089981"/>
<rect x="973" y="354" width="1" height="20" fill="#089981"/>
<rect x="972" y="364" width="3" height="9" fill="#089981"/>
<rect x="976" y="358" width="1" height="11" fill="#f23645"/>
<rect x="975" y="364" width="3" height="4" fill="#f23645"/>
<rect x="979" y="357" width="1" height="12" fill="#089981"/>
<rect x="978" y="366" width="3" height="2" fill="#089981"/>
<rect x="982" y="361" width="1" height="13" fill="#f23645"/>
<rect x="981" y="366" width="3" height="8" fill="#f23645"/>
<rect x="985" y="371" width="1" height="13" fill="#f23645"/>
<rect x="984" y="374" width="3" height="4" fill="#f23645"/>
<rect x="988" y="368" width="1" height="28" fill="#f23645"/>
<rect x="987" y="378" width="3" height="18" fill="#f23645"/>
<rect x="991" y="340" width="1" height="60" fill="#089981"/>
<rect x="990" y="341" width="3" height="55" fill="#089981"/>
<rect x="994" y="339" width="1" height="19" fill="#f23645"/>
<rect x="993" y="341" width="3" height="14" fill="#f23645"/>
<rect x="997" y="339" width="1" height="23" fill="#f23645"/>
<rect x="996" y="355" width="3" height="5" fill="#f23645"/>
<rect x="1000" y="342" width="1" height="21" fill="#089981"/>
<rect x="999" y="350" width="3" height="10" fill="#089981"/>
<rect x="1003" y="323" width="1" height="28" fill="#089981"/>
<rect x="1002" y="336" width="3" height="14" fill="#089981"/>
<rect x="1006" y="320" width="1" height="18" fill="#089981"/>
<rect x="1005" y="323" width="3" height="13" fill="#089981"/>
<rect x="1009" y="320" width="1" height="14" fill="#089981"/>
<rect x="1008" y="320" width="3" height="3" fill="#089981"/>
<rect x="1012" y="308" width="1" height="20" fill="#089981"/>
<rect x="1011" y="312" width="3" height="8" fill="#089981"/>
<rect x="1015" y="310" width="1" height="24" fill="#f23645"/>
<rect x="1014" y="312" width="3" height="7" fill="#f23645"/>
<rect x="1018" y="299" width="1" height="20" fill="#089981"/>
<rect x="1017" y="306" width="3" height="13" fill="#089981"/>
<rect x="1021" y="300" width="1" height="26" fill="#f23645"/>
<rect x="1020" y="306" width="3" height="15" fill="#f23645"/>
<rect x="1024" y="314" width="1" height="18" fill="#f23645"/>
<rect x="1023" y="321" width="3" height="9" fill="#f23645"/>
<rect x="1027" y="322" width="1" height="30" fill="#f23645"/>
<rect x="1026" y="330" width="3" height="17" fill="#f23645"/>
<rect x="1030" y="334" width="1" height="25" fill="#f23645"/>
<rect x="1029" y="347" width="3" height="11" fill="#f23645"/>
<rect x="1033" y="353" width="1" height="30" fill="#f23645"/>
<rect x="1032" y="358" width="3" height="14" fill="#f23645"/>
<rect x="1036" y="349" width="1" height="23" fill="#089981"/>
<rect x="1035" y="352" width="3" height="20" fill="#089981"/>
<rect x="1038" y="348" width="1" height="26" fill="#f23645"/>
<rect x="1037" y="352" width="3" height="21" fill="#f23645"/>
<rect x="1041" y="359" width="1" height="22" fill="#f23645"/>
<rect x="1040" y="373" width="3" height="8" fill="#f23645"/>
<rect x="1044" y="377" width="1" height="18" fill="#f23645"/>
<rect x="1043" y="381" width="3" height="6" fill="#f23645"/>
<rect x="1047" y="375" width="1" height="14" fill="#089981"/>
<rect x="1046" y="380" width="3" height="7" fill="#089981"/>
<rect x="1050" y="369" width="1" height="12" fill="#089981"/>
<rect x="1049" y="372" width="3" height="8" fill="#089981"/>
<rect x="1053" y="354" width="1" height="19" fill="#089981"/>
<rect x="1052" y="355" width="3" height="17" fill="#089981"/>
<rect x="1056" y="352" width="1" height="15" fill="#f23645"/>
<rect x="1055" y="355" width="3" height="6" fill="#f23645"/>
<rect x="1059" y="354" width="1" height="12" fill="#089981"/>
<rect x="1058" y="356" width="3" height="5" fill="#089981"/>
<rect x="1062" y="354" width="1" height="11" fill="#f23645"/>
<rect x="1061" y="355" width="3" height="9" fill="#f23645"/>
<rect x="1065" y="361" width="1" height="9" fill="#f23645"/>
<rect x="1064" y="364" width="3" height="5" fill="#f23645"/>
<rect x="1068" y="366" width="1" height="9" fill="#f23645"/>
<rect x="1067" y="369" width="3" height="6" fill="#f23645"/>
<rect x="1071" y="368" width="1" height="8" fill="#089981"/>
<rect x="1070" y="370" width="3" height="5" fill="#089981"/>
<rect x="1074" y="362" width="1" height="8" fill="#089981"/>
<rect x="1073" y="366" width="3" height="4" fill="#089981"/>
<rect x="1077" y="360" width="1" height="8" fill="#089981"/>
<rect x="1076" y="361" width="3" height="7" fill="#089981"/>
<rect x="1080" y="360" width="1" height="11" fill="#f23645"/>
<rect x="1079" y="361" width="3" height="7" fill="#f23645"/>
<rect x="1083" y="367" width="1" height="11" fill="#f23645"/>
<rect x="1082" y="368" width="3" height="7" fill="#f23645"/>
<rect x="1086" y="368" width="1" height="10" fill="#089981"/>
<rect x="1085" y="374" width="3" height="1" fill="#089981"/>
<rect x="1089" y="366" width="1" height="8" fill="#089981"/>
<rect x="1088" y="366" width="3" height="8" fill="#089981"/>
<rect x="1092" y="355" width="1" height="15" fill="#089981"/>
<rect x="1091" y="357" width="3" height="10" fill="#089981"/>
<rect x="1095" y="350" width="1" height="12" fill="#f23645"/>
<rect x="1094" y="357" width="3" height="5" fill="#f23645"/>
<rect x="1098" y="355" width="1" height="10" fill="#089981"/>
<rect x="1097" y="360" width="3" height="2" fill="#089981"/>
<rect x="1101" y="357" width="1" height="12" fill="#089981"/>
<rect x="1100" y="359" width="3" height="1" fill="#089981"/>
</svg>
<div class="pl" style="top:70.4px"><span>1,16400</span></div>
<div class="pl" style="top:119.6px"><span>1,16200</span></div>
<div class="pl" style="top:168.8px"><span>1,16000</span></div>
<div class="pl" style="top:218.1px"><span>1,15800</span></div>
<div class="pl" style="top:267.5px"><span>1,15600</span></div>
<div class="pl" style="top:317.0px"><span>1,15400</span></div>
<div class="pl" style="top:366.6px"><span>1,15200</span></div>
<div class="pl" style="top:403.8px"><span>1,15050</span></div>
<div class="pl" style="top:441.1px"><span>1,14900</span></div>
<div class="pl" style="top:478.4px"><span>1,14750</span></div>
<div class="pl" style="top:513.3px"><span>1,14610</span></div>
<div class="pl" style="top:545.7px"><span>1,14480</span></div>

<div class="tag" style="top:61px;height:16px;line-height:16px;background:#f23645"><span>1,16445</span></div>
<div class="tag" style="top:207px;height:17px;line-height:17px;background:#787b86"><span>1,15845</span></div>
<div class="tag" style="top:228px;height:17px;line-height:17px;background:#089981"><span>1,15760</span></div>
<div class="tag" style="top:399px;height:17px;line-height:17px;background:#787b86"><span>1,15160</span></div>
<div class="tag" style="top:526px;height:17px;line-height:17px;background:#f23645"><span>1,14560</span></div>
<div class="tag" style="top:351px;height:31px;background:#089981;border-radius:2px 2px 0 0"><span style="top:0">1,15264</span><span style="top:14px;font-weight:normal;color:#d0ece6;letter-spacing:0">05:05</span></div>
<div class="tag" style="top:382px;background:#089981;border-radius:0"><span>1,15245</span></div>

<div id="usd"><span>USD</span></div>
<div class="tl" style="left:50.1px">14</div>
<div class="tl" style="left:192.2px">15</div>
<div class="tl" style="left:334.3px">18</div>
<div class="tl" style="left:476.4px">19</div>
<div class="tl" style="left:618.5px">20</div>
<div class="tl" style="left:760.6px">21</div>
<div class="tl" style="left:902.7px">22</div>
<div class="tl" style="left:1044.8px">25</div>
<div class="tl" style="left:1186.9px">26</div>

<svg id="logo" width="30.6" height="19" preserveAspectRatio="none" viewBox="0 0 36 23"><path fill="#111" d="M14 22H7V11H0V4h14v18zM28 22h-8l7.5-18h8L28 22z"/><circle cx="20" cy="8" r="4" fill="#111"/></svg>
<div id="logotxt">TradingView</div>
</body></html>
